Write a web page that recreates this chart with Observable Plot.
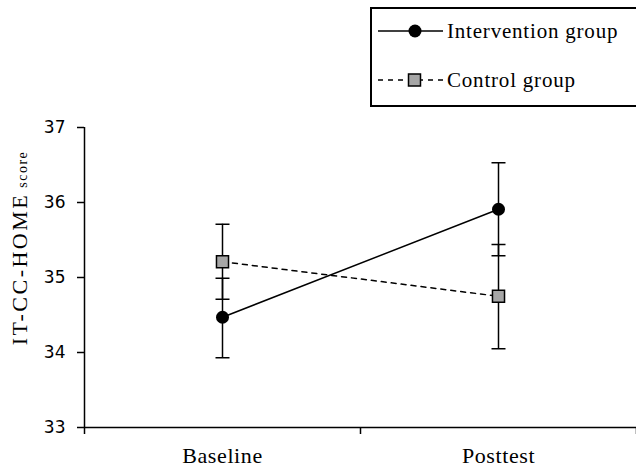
<!DOCTYPE html>
<html><head><meta charset="utf-8">
<script src="https://cdn.jsdelivr.net/npm/d3@7"></script>
<script src="https://cdn.jsdelivr.net/npm/@observablehq/plot@0.6"></script>
<style>
body{margin:0;width:636px;height:469px;overflow:hidden;background:#fff;}
#legend{position:relative;height:115px;width:636px;overflow:hidden;}
#box{position:absolute;left:370px;top:7px;width:320px;height:100px;border:2px solid #000;box-sizing:border-box;}
.row{position:absolute;left:6px;height:24px;display:flex;align-items:center;font-family:"Liberation Serif","Times New Roman","DejaVu Serif",serif;font-size:21px;letter-spacing:0.8px;color:#000;white-space:nowrap;}
.row span{margin-left:3px;}
</style></head><body>
<div id="legend"><div id="box"></div></div>
<div id="chart"></div>
<script>
const periods = ["Baseline", "Posttest"];
const groups = ["Intervention group", "Control group"];
const interventionMean = [34.47, 35.91];
const interventionLow = [33.93, 35.29];
const interventionHigh = [34.99, 36.53];
const controlMean = [35.21, 34.75];
const controlLow = [34.71, 34.05];
const controlHigh = [35.71, 35.44];
const yTicks = [33, 34, 35, 36, 37];
const yLabelMain = "IT-CC-HOME";
const yLabelSmall = "score";
const serif = '"Liberation Serif", "Times New Roman", "DejaVu Serif", serif';

// legend (HTML, above the SVG)
const box = document.getElementById("box");
const legendRows = [
  {name: groups[0], top: 10, svg: '<svg width="66" height="20"><line x1="0" y1="10" x2="65" y2="10" stroke="#000" stroke-width="1.5"/><circle cx="37" cy="10" r="6.5" fill="#000"/></svg>'},
  {name: groups[1], top: 59, svg: '<svg width="66" height="20"><line x1="0" y1="10" x2="65" y2="10" stroke="#000" stroke-width="1.5" stroke-dasharray="5,5"/><rect x="30.5" y="4" width="12" height="12" fill="#a6a6a6" stroke="#000" stroke-width="1.5"/></svg>'}
];
legendRows.forEach(r => {
  const d = document.createElement("div");
  d.className = "row";
  d.style.top = r.top + "px";
  d.innerHTML = r.svg + "<span>" + r.name + "</span>";
  box.appendChild(d);
});

const rows = [];
periods.forEach((p, i) => {
  rows.push({group: groups[0], i, mean: interventionMean[i], lo: interventionLow[i], hi: interventionHigh[i]});
  rows.push({group: groups[1], i, mean: controlMean[i], lo: controlLow[i], hi: controlHigh[i]});
});
const inter = rows.filter(d => d.group === groups[0]);
const ctrl = rows.filter(d => d.group === groups[1]);
const cap = {draw(ctx) { ctx.moveTo(-7, 0); ctx.lineTo(7, 0); }};

const plot = Plot.plot({
  width: 636, height: 354,
  marginTop: 12, marginBottom: 42, marginLeft: 84, marginRight: 0,
  x: {domain: [-0.5, 1.5]},
  y: {domain: [33, 37]},
  style: {background: "#fff", color: "#000", overflow: "visible"},
  marks: [
    Plot.ruleX([-0.5], {stroke: "#000", strokeWidth: 1.5}),
    Plot.ruleY([33], {stroke: "#000", strokeWidth: 1.5}),
    Plot.axisY({ticks: yTicks, tickSize: 7, tickPadding: 12, tickFormat: d => String(d), fontSize: 17, fontFamily: "DejaVu Sans", label: null, strokeWidth: 1.5}),
    Plot.axisX({ticks: [-0.5, 0.5, 1.5], tickSize: 7, tickFormat: () => "", label: null, strokeWidth: 1.5}),
    Plot.axisX({ticks: [0, 1], tickSize: 0, tickPadding: 20, tickFormat: i => periods[i], fontSize: 22, fontFamily: serif, label: null}),
    Plot.ruleX(rows, {x: "i", y1: "lo", y2: "hi", stroke: "#000", strokeWidth: 1.5}),
    Plot.dot(rows, {x: "i", y: "lo", symbol: cap, fill: "none", stroke: "#000", strokeWidth: 1.5}),
    Plot.dot(rows, {x: "i", y: "hi", symbol: cap, fill: "none", stroke: "#000", strokeWidth: 1.5}),
    Plot.line(inter, {x: "i", y: "mean", stroke: "#000", strokeWidth: 1.5}),
    Plot.line(ctrl, {x: "i", y: "mean", stroke: "#000", strokeWidth: 1.5, strokeDasharray: "5,5"}),
    Plot.dot(inter, {x: "i", y: "mean", r: 6.5, fill: "#000", stroke: "none"}),
    Plot.dot(ctrl, {x: "i", y: "mean", symbol: "square", r: 6.8, fill: "#a6a6a6", stroke: "#000", strokeWidth: 1.5})
  ]
});
document.getElementById("chart").appendChild(plot);

const svg = d3.select(plot);
svg.selectAll('g[aria-label="x-axis tick label"] text')
  .style("letter-spacing", "0.6px")
  .style("font-family", serif);
const t = svg.append("text")
  .attr("transform", "translate(27,133) rotate(-90)")
  .attr("text-anchor", "middle")
  .attr("fill", "#000")
  .style("font-family", serif);
t.append("tspan").style("font-size", "22px").style("letter-spacing", "2.5px").text(yLabelMain);
t.append("tspan").style("font-size", "14px").style("letter-spacing", "1.5px").text(" " + yLabelSmall);
</script>
</body></html>
